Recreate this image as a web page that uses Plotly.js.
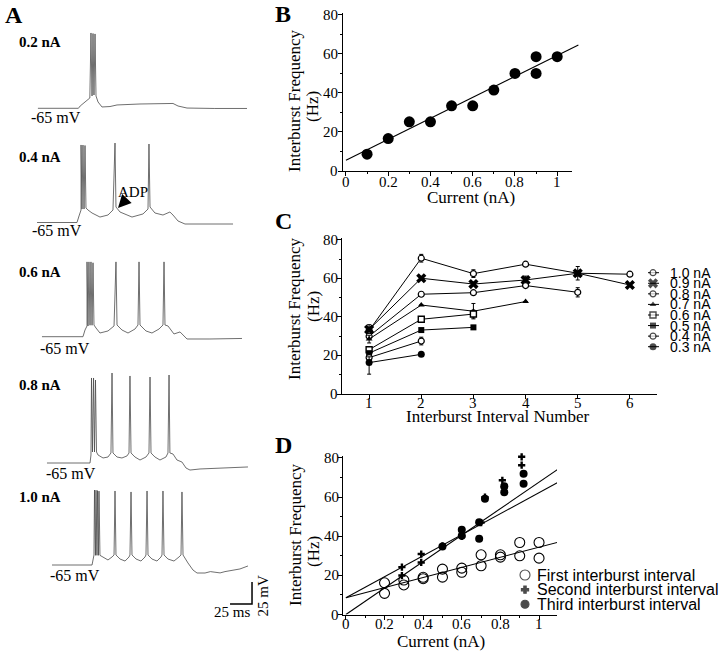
<!DOCTYPE html>
<html>
<head>
<meta charset="utf-8">
<script src="https://cdn.plot.ly/plotly-3.0.1.min.js"></script>
<style>html,body{margin:0;padding:0;background:#fff;}#chart{width:720px;height:656px;}</style>
</head>
<body>
<div id="chart"></div>
<script>
// ---------- Panel A: voltage traces (time in ms, membrane potential in mV) ----------
const aLabels = ['0.2 nA', '0.4 nA', '0.6 nA', '0.8 nA', '1.0 nA'];
const restLabel = '-65 mV';
const t1 = [9, 55, 57, 64, 68, 69.3, 70.5, 71.6, 72.7, 73.9, 75, 77.3, 81.8, 90.9, 98.9, 125, 147.7, 162.5, 168.2, 178.4, 210, 246.6];
const v1 = [-65, -65, -62.4, -56.7, -53.3, 20.6, -51, 20, -49.9, 19.5, -51, -57.8, -63.5, -63, -61.2, -60.1, -59.5, -59.5, -62.4, -64.7, -65.2, -65.2];
const t2 = [8, 53.4, 55.7, 58, 58, 59.1, 60.2, 61.4, 62.5, 63.6, 65.9, 70.5, 79.5, 88.6, 94.3, 96.6, 97.7, 102.3, 115.9, 128.4, 134.1, 135.2, 136.4, 142, 151.1, 159, 162.5, 168.2, 176.1, 230.7];
const v2 = [-65, -65, -57.6, -50.8, 23.1, -49.7, 23, -49.7, 22.5, -48.5, -50.8, -54.2, -58.8, -56.5, -50.8, 25.3, -47.4, -53.1, -58.8, -55.3, -49.7, 24.2, -47.4, -54.2, -56.5, -53.1, -56.5, -63.3, -66.7, -66.7];
const t3 = [13.6, 60.2, 62.5, 64.8, 64.8, 65.9, 67, 68.2, 69.3, 70.5, 71.6, 72.7, 75, 79.5, 88.6, 95.5, 97.7, 98.9, 104.5, 111.4, 119.3, 122.7, 123.9, 125, 131.8, 138.6, 146.6, 151.1, 152.3, 153.4, 156.8, 163.6, 170.5, 178.4, 204.5, 240.9];
const v3 = [-65, -65, -57.4, -52.8, 20, -52.8, 20, -52, 20, -52, 19, -51.7, -55.1, -60.8, -58.5, -52.8, 20, -51.7, -57.4, -60.8, -56.3, -51.7, 20, -51.7, -58.5, -60.8, -56.3, -51.7, 20, -51.7, -52.8, -61.9, -59.6, -67.6, -67.6, -67];
const t4 = [19.3, 68.2, 69.3, 69.9, 71, 72.2, 73.3, 74.4, 75.6, 77.3, 83, 88.6, 92, 93.2, 94.3, 98.9, 104.5, 110.2, 112.5, 113.6, 114.8, 119.3, 125, 131.8, 135.2, 136.4, 137.5, 142, 147.7, 154.5, 156.8, 158, 159, 162.5, 167, 172.7, 177.3, 181.8, 193.2, 247.7];
const v4 = [-65, -65, -55.9, 31.6, -52.5, 31.6, -52.5, 29.3, -52.5, -55.9, -59.3, -58.2, -53.6, 37.3, -53.6, -58.2, -59.3, -57, -53.6, 33.9, -53.6, -58.2, -61.6, -58.2, -53.6, 32.7, -53.6, -58.2, -61.6, -58.2, -53.6, 35, -53.6, -54.8, -61.6, -63.9, -70.7, -73, -71.8, -69.5];
const t5 = [25, 70.5, 72.7, 73.3, 74.4, 75, 76.1, 76.7, 77.8, 78.4, 79.5, 80.7, 84.1, 88.6, 93.2, 95.5, 96.6, 97.7, 102.3, 108, 112.5, 113.6, 114.8, 115.9, 120.5, 126.1, 130.7, 131.8, 133, 134.1, 138.6, 144.3, 148.9, 150, 151.1, 152.3, 156.8, 163.6, 169.3, 171.6, 172.7, 173.9, 179.5, 185.2, 189.8, 198.9, 205, 210.2, 216, 221.6, 229.5, 238.6, 247.7];
const v5 = [-65, -65, -53.6, 20.2, -54, 20, -54, 19.5, -54, 19, -54, -54.8, -57, -59.3, -55.9, -53.6, 19.1, -53.6, -58.2, -60.5, -55.9, -53.6, 18, -53.6, -58.2, -60.5, -55.9, -53.6, 19.1, -53.6, -58.2, -60.5, -55.9, -53.6, 19.1, -53.6, -58.2, -60.5, -55.9, -53.6, 18, -53.6, -62.7, -70.7, -74.1, -74.1, -72.5, -73, -74, -72.5, -70.7, -69.5, -66.1];
const scaleBarMs = 25;
const scaleBarMv = 25;

// ---------- tick labels ----------
const currentTicks = [0, 0.2, 0.4, 0.6, 0.8, 1];
const currentTickText = ['0', '0.2', '0.4', '0.6', '0.8', '1'];
const freqTicks = [0, 20, 40, 60, 80];
const freqTickText = ['0', '20', '40', '60', '80'];
const intervalTicks = [1, 2, 3, 4, 5, 6];
const intervalTickText = ['1', '2', '3', '4', '5', '6'];

// ---------- Panel B ----------
const bCurrent = [0.1, 0.2, 0.3, 0.4, 0.5, 0.6, 0.7, 0.8, 0.9, 0.9, 1.0];
const bFreq = [8.6, 16.6, 25.2, 25.2, 33.4, 33.4, 41.5, 50, 58.6, 50, 58.6];
const bFitX = [0, 1.1];
const bFitY = [5.5, 64.6];

// ---------- Panel C ----------
const cInterval = [1, 2, 3, 4, 5, 6];
const cLabels = ['1.0 nA', '0.9 nA', '0.8 nA', '0.7 nA', '0.6 nA', '0.5 nA', '0.4 nA', '0.3 nA'];
const c10 = [33, 70.5, 62.5, 67.4, 62.7, 62.2];
const c09 = [33.5, 60.1, 57.1, 59.2, 62.7, 56.6];
const c08 = [30, 51.8, 52.6, 56.3, 52.8];
const c07 = [28.5, 46.2, 43, 48];
const c06 = [23, 38.8, 41.5];
const c05 = [21.2, 33.2, 34.6];
const c04 = [18.9, 27.5];
const c03 = [16.3, 20.6];
const c10err = [3, 2, 2, 0, 3.5, 1];
const c09err = [0, 0, 1, 2, 0, 0];
const c08err = [0, 0, 0, 1, 2.4];
const c07err = [2, 0, 4, 0];
const c06err = [0, 0, 2];
const c05err = [0, 0, 0];
const c04err = [0, 2];
const c03errUp = [3, 0];
const c03errDown = [6, 0];

// ---------- Panel D ----------
const dLabels = ['First interburst interval', 'Second interburst interval', 'Third interburst interval'];
const dFirstX = [0.2, 0.2, 0.3, 0.3, 0.4, 0.4, 0.5, 0.5, 0.6, 0.6, 0.7, 0.7, 0.8, 0.8, 0.9, 0.9, 1.0, 1.0];
const dFirstY = [16.2, 10.8, 17.6, 15.1, 19, 18.3, 23.2, 19.1, 23.7, 21.6, 30.5, 24.9, 30.5, 29.3, 36.8, 30, 36.8, 28.8];
const dSecondX = [0.29, 0.29, 0.39, 0.39, 0.5, 0.6, 0.7, 0.72, 0.81, 0.82, 0.91, 0.91];
const dSecondY = [24.2, 19.9, 30.9, 26.6, 35.1, 39.9, 47, 60, 68.6, 65, 80.6, 76.3];
const dThirdX = [0.5, 0.6, 0.6, 0.69, 0.69, 0.72, 0.82, 0.82, 0.92, 0.92];
const dThirdY = [34.8, 43.3, 40.3, 47.1, 38.7, 59.1, 65.5, 62.5, 71.9, 66.8];
const dFitX = [0, 1.1];
const dFitFirstY = [8.6, 37];
const dFitSecondY = [8.6, 67.6];
const dFitThirdY = [0, 74.4];

// ---------- layout helpers ----------
const W = 720, H = 656;
const px = x => x / W;
const py = y => 1 - y / H;
const serif = '"Liberation Serif", "Times New Roman", serif';
const sans = '"Liberation Sans", Arial, sans-serif';
const K = 0.88; // px per ms and per mV in panel A

const traces = [];
const layout = {
  width: W, height: H, margin: {l: 0, r: 0, t: 0, b: 0},
  paper_bgcolor: '#fff', plot_bgcolor: 'rgba(0,0,0,0)',
  showlegend: false, annotations: [], shapes: []
};
const sfx = i => (i === 1 ? '' : String(i));
function note(x, y, text, font, extra) {
  layout.annotations.push(Object.assign({xref: 'paper', yref: 'paper', x: px(x), y: py(y), xanchor: 'center', yanchor: 'middle', showarrow: false, text: text, font: font}, extra || {}));
}

// Panel A axes and traces
const aT = [t1, t2, t3, t4, t5];
const aV = [v1, v2, v3, v4, v5];
const aBase = [108.3, 222.5, 336.7, 463, 565];   // pixel row of -65 mV
const aLabelY = [42, 157, 272, 385, 497];
const aRestPos = [[56, 117], [57, 230], [65, 348], [71, 473], [75, 575]];
for (let i = 1; i <= 5; i++) {
  const yb = aBase[i - 1];
  const top = yb - 90;
  const bottom = i === 5 ? 612 : yb + 10;
  layout['xaxis' + sfx(i)] = {domain: [px(30), px(264)], range: [0, 234 / K], visible: false, anchor: 'y' + sfx(i), fixedrange: true};
  layout['yaxis' + sfx(i)] = {domain: [py(bottom), py(top)], range: [-65 - (bottom - yb) / K, -65 + (yb - top) / K], visible: false, anchor: 'x' + sfx(i), fixedrange: true};
  traces.push({x: aT[i - 1], y: aV[i - 1], xaxis: 'x' + sfx(i), yaxis: 'y' + sfx(i), mode: 'lines', line: {color: '#4a4a4a', width: 0.8}, hoverinfo: 'skip'});
  note(17, aLabelY[i - 1], '<b>' + aLabels[i - 1] + '</b>', {family: serif, size: 15, color: '#000'}, {xanchor: 'left'});
  note(aRestPos[i - 1][0], aRestPos[i - 1][1], restLabel, {family: serif, size: 16, color: '#000'});
}
// scale bar (corner at 252.3 ms, -109.3 mV of the last trace's axes)
const sbT = 252.3, sbV = -109.3;
traces.push({x: [sbT - scaleBarMs, sbT, sbT], y: [sbV, sbV, sbV + scaleBarMv], xaxis: 'x5', yaxis: 'y5', mode: 'lines', line: {color: '#000', width: 1.5}, hoverinfo: 'skip', cliponaxis: false});
note(231.5, 612, scaleBarMs + ' ms', {family: serif, size: 15, color: '#000'});
note(262.5, 596, scaleBarMv + ' mV', {family: serif, size: 15, color: '#000'}, {textangle: -90});
// ADP arrow
layout.annotations.push({xref: 'x2', yref: 'y2', x: 100, y: -48.5, ax: 15, ay: -16, showarrow: true, arrowhead: 2, arrowsize: 1.3, arrowwidth: 2, arrowcolor: '#000', text: 'ADP', font: {family: serif, size: 15, color: '#000'}, standoff: 0});

// common scientific axis (tick marks from the axis; tick labels placed with the axis scale)
const tickFont = {family: serif, size: 15, color: '#000'};
function sciAxis(extra) {
  return Object.assign({showline: true, linecolor: '#000', linewidth: 1, ticks: 'outside', ticklen: 4, tickwidth: 1, tickcolor: '#000', showgrid: false, zeroline: false, showticklabels: false, fixedrange: true}, extra);
}
const minorY = {dtick: 10, ticks: 'outside', ticklen: 2, tickcolor: '#000', showgrid: false};
const minorX = {dtick: 0.1, ticks: 'outside', ticklen: 2, tickcolor: '#000', showgrid: false};
function xTickLabels(axisId, vals, texts, yPx) {
  vals.forEach((v, i) => layout.annotations.push({xref: 'x' + axisId, yref: 'paper', x: v, y: py(yPx), xanchor: 'center', yanchor: 'middle', showarrow: false, text: texts[i], font: tickFont}));
}
function yTickLabels(axisId, vals, texts, xPx) {
  vals.forEach((v, i) => layout.annotations.push({xref: 'paper', yref: 'y' + axisId, x: px(xPx), y: v, xanchor: 'right', yanchor: 'middle', showarrow: false, text: texts[i], font: tickFont}));
}

// Panel B
layout.xaxis6 = sciAxis({domain: [px(343), px(572)], range: [-0.014, 1.07], tick0: 0, dtick: 0.2, minor: minorX, anchor: 'y6'});
layout.yaxis6 = sciAxis({domain: [py(171), py(13)], range: [0, 81], tick0: 0, dtick: 20, minor: minorY, anchor: 'x6'});
xTickLabels(6, currentTicks, currentTickText, 182);
yTickLabels(6, freqTicks, freqTickText, 340);
layout.xaxis11 = {domain: [px(343), px(600)], range: [-0.014, -0.014 + 257 / 211.3], visible: false, anchor: 'y11', fixedrange: true};
layout.yaxis11 = {domain: [py(171), py(13)], range: [0, 81], visible: false, anchor: 'x11', fixedrange: true};
traces.push({x: bFitX, y: bFitY, xaxis: 'x11', yaxis: 'y11', mode: 'lines', line: {color: '#000', width: 1.1}, hoverinfo: 'skip'});
traces.push({x: bCurrent, y: bFreq, xaxis: 'x6', yaxis: 'y6', mode: 'markers', marker: {symbol: 'circle', size: 11, color: '#000'}, cliponaxis: false});

// Panel C
layout.xaxis7 = sciAxis({domain: [px(342), px(657)], range: [0.48, 6.52], tick0: 1, dtick: 1, anchor: 'y7'});
layout.yaxis7 = sciAxis({domain: [py(394), py(238)], range: [0, 81], tick0: 0, dtick: 20, minor: minorY, anchor: 'x7'});
xTickLabels(7, intervalTicks, intervalTickText, 403);
yTickLabels(7, freqTicks, freqTickText, 339.5);
const cSeries = [c10, c09, c08, c07, c06, c05, c04, c03];
const cErr = [c10err, c09err, c08err, c07err, c06err, c05err, c04err, c03errUp];
const cSym = ['circle', 'x', 'circle', 'triangle-up', 'square', 'square', 'circle', 'circle'];
const cFill = ['#fff', '#000', '#fff', '#000', '#fff', '#000', '#fff', '#000'];
const cSize = [6, 9, 6, 6, 6, 6, 6, 7];
const cLineW = [1.2, 0, 1.2, 0, 1.4, 0, 1.2, 0];
cSeries.forEach((s, k) => {
  const err = {type: 'data', array: cErr[k], visible: true, color: '#000', thickness: 1, width: 2};
  if (k === 7) { err.symmetric = false; err.arrayminus = c03errDown; }
  traces.push({x: cInterval.slice(0, s.length), y: s, xaxis: 'x7', yaxis: 'y7', mode: 'lines+markers', line: {color: '#000', width: 1},
    marker: {symbol: cSym[k], size: cSize[k], color: cFill[k], line: {color: '#000', width: cLineW[k]}}, error_y: err, cliponaxis: false});
});
// Panel C legend
layout.xaxis9 = {domain: [px(640), px(720)], range: [0, 80], visible: false, anchor: 'y9', fixedrange: true};
layout.yaxis9 = {domain: [py(352), py(268)], range: [7.5, -0.445], visible: false, anchor: 'x9', fixedrange: true};
const legLX = [], legLY = [];
cLabels.forEach((lab, k) => {
  legLX.push(8, 19, null); legLY.push(k, k, null);
  layout.annotations.push({xref: 'x9', yref: 'y9', x: 28, y: k, xanchor: 'left', yanchor: 'middle', showarrow: false, text: lab, font: {family: sans, size: 14, color: '#000'}});
});
traces.push({x: legLX, y: legLY, xaxis: 'x9', yaxis: 'y9', mode: 'lines', line: {color: '#000', width: 1}, hoverinfo: 'skip'});
traces.push({x: cLabels.map(() => 13), y: cLabels.map((_, k) => k), xaxis: 'x9', yaxis: 'y9', mode: 'markers',
  marker: {symbol: cSym, size: cSize, color: cFill, line: {color: '#000', width: cLineW}}, cliponaxis: false, hoverinfo: 'skip'});

// Panel D
layout.xaxis8 = sciAxis({domain: [px(343), px(557)], range: [-0.015, 1.093], tick0: 0, dtick: 0.2, minor: minorX, anchor: 'y8'});
layout.yaxis8 = sciAxis({domain: [py(614.5), py(456)], range: [0, 81], tick0: 0, dtick: 20, minor: minorY, anchor: 'x8'});
xTickLabels(8, currentTicks, currentTickText, 623.5);
yTickLabels(8, freqTicks, freqTickText, 341);
[dFitFirstY, dFitSecondY, dFitThirdY].forEach(fy => {
  traces.push({x: dFitX, y: fy, xaxis: 'x8', yaxis: 'y8', mode: 'lines', line: {color: '#000', width: 1.1}, hoverinfo: 'skip'});
});
const dSym = ['circle-open', 'cross', 'circle'];
const dSize = [10, 6, 8];
traces.push({x: dFirstX, y: dFirstY, xaxis: 'x8', yaxis: 'y8', mode: 'markers', marker: {symbol: dSym[0], size: dSize[0], color: '#000', line: {color: '#000', width: 1.1}}, cliponaxis: false});
traces.push({x: dSecondX, y: dSecondY, xaxis: 'x8', yaxis: 'y8', mode: 'markers', marker: {symbol: dSym[1], size: dSize[1], color: '#000', line: {width: 0}}, cliponaxis: false});
traces.push({x: dThirdX, y: dThirdY, xaxis: 'x8', yaxis: 'y8', mode: 'markers', marker: {symbol: dSym[2], size: dSize[2], color: '#000'}, cliponaxis: false});
// Panel D legend
layout.xaxis10 = {domain: [px(515), px(720)], range: [0, 205], visible: false, anchor: 'y10', fixedrange: true};
layout.yaxis10 = {domain: [py(612), py(565)], range: [2.526, -0.683], visible: false, anchor: 'x10', fixedrange: true};
traces.push({x: dLabels.map(() => 10), y: dLabels.map((_, k) => k), xaxis: 'x10', yaxis: 'y10', mode: 'markers',
  marker: {symbol: dSym, size: dSize, color: '#000', line: {color: '#000', width: 1.1}}, cliponaxis: false, hoverinfo: 'skip'});
dLabels.forEach((lab, k) => {
  layout.annotations.push({xref: 'x10', yref: 'y10', x: 20, y: k, xanchor: 'left', yanchor: 'middle', showarrow: false, text: lab, font: {family: sans, size: 16, color: '#000'}});
});

// panel letters and axis titles
[['A', 14, 15], ['B', 283, 14], ['C', 283, 221], ['D', 283, 445]].forEach(([s, x, y]) => {
  note(x, y, '<b>' + s + '</b>', {family: serif, size: 24, color: '#000'});
});
const tf = {family: serif, size: 17, color: '#000'};
[[101, 107], [309, 307], [535, 552]].forEach(([y1, y2]) => {
  note(295, y1, 'Interburst Frequency', tf, {textangle: -90});
  note(313, y2, '(Hz)', tf, {textangle: -90});
});
note(471, 197, 'Current (nA)', tf);
note(497, 416, 'Interburst Interval Number', tf);
note(441, 641, 'Current (nA)', tf);

Plotly.newPlot('chart', traces, layout, {staticPlot: true, displayModeBar: false});
</script>
</body>
</html>
